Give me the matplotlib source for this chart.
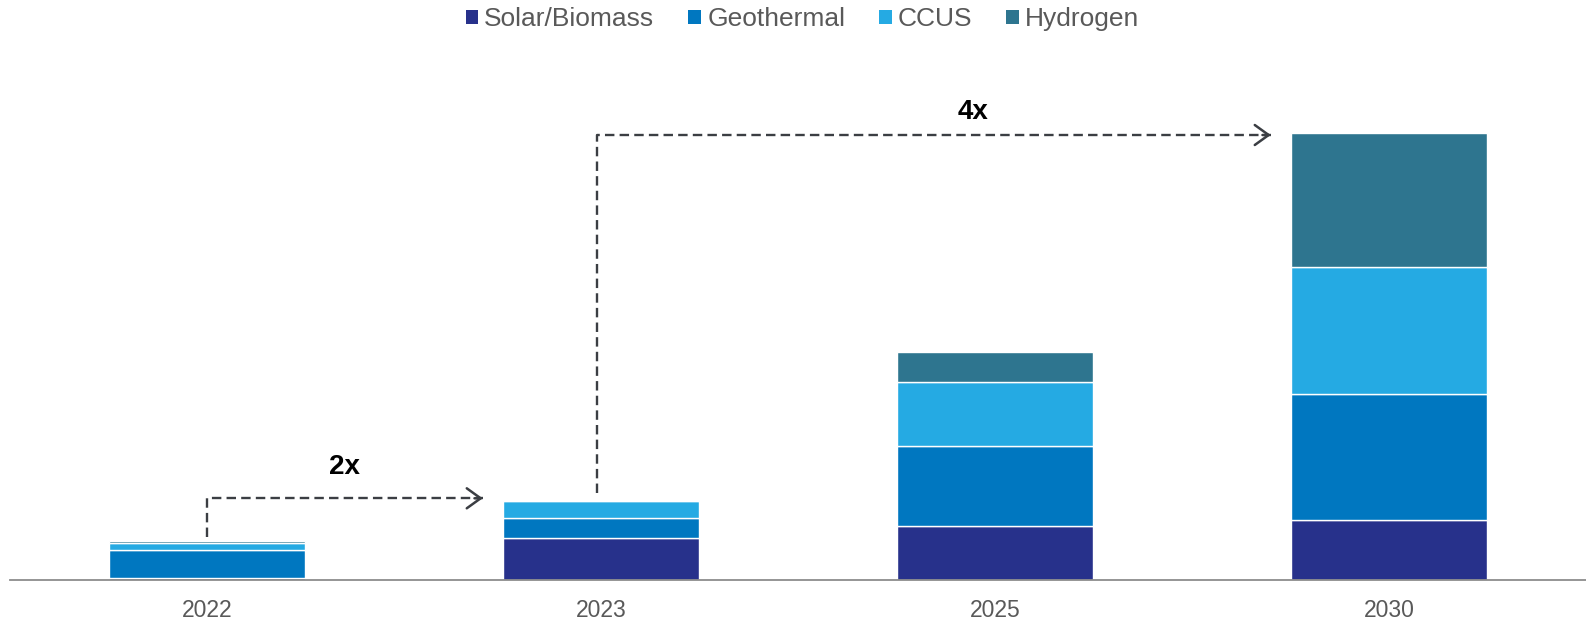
import matplotlib
matplotlib.use("Agg")
import matplotlib.pyplot as plt
from matplotlib.patches import Patch
import numpy as np

plt.rcParams['font.family'] = ['Liberation Sans', 'DejaVu Sans']

years = ["2022", "2023", "2025", "2030"]
series_names = ["Solar/Biomass", "Geothermal", "CCUS", "Hydrogen"]
solar = [2.5, 42.3, 54.0, 60.0]
geothermal = [28.0, 20.0, 80.3, 126.0]
ccus = [6.3, 16.7, 63.4, 127.0]
hydrogen = [2.5, 0.0, 30.0, 134.3]
colors = ["#27318B", "#0077C0", "#25AAE3", "#2E758F"]

growth_labels = ["2x", "4x"]

fig = plt.figure(figsize=(15.86, 6.21), dpi=100)
ax = fig.add_axes([10 / 1586, 41 / 621, 1576 / 1586, 520 / 621])

x = np.arange(len(years))
bottom = np.zeros(len(years))
for vals, col in zip([solar, geothermal, ccus, hydrogen], colors):
    ax.bar(x, vals, width=0.497, bottom=bottom, color=col,
           edgecolor="white", linewidth=1.0)
    bottom += np.array(vals)

ax.set_xlim(-0.5, 3.5)
ax.set_ylim(0, 520)
ax.set_xticks(x)
ax.set_xticklabels(years, fontsize=16.5, color="#595959")
ax.tick_params(axis="x", length=0, pad=13.5)
ax.set_yticks([])
for s in ["top", "left", "right"]:
    ax.spines[s].set_visible(False)
ax.spines["bottom"].set_color("#8c8c8c")
ax.spines["bottom"].set_linewidth(1.3)

arrow_col = "#3b3e43"

def growth_arrow(x0, y0, y1, x1, label, lx, ly):
    ax.plot([x0, x0, x1], [y0, y1, y1], color=arrow_col, lw=1.7,
            dashes=(4, 2.2), solid_capstyle="butt", zorder=5)
    ax.annotate("", xy=(x1, y1), xytext=(-6, 0), textcoords="offset points",
                arrowprops=dict(arrowstyle="->,head_length=0.5,head_width=0.36",
                                mutation_scale=20, color=arrow_col, lw=1.8,
                                shrinkA=0, shrinkB=0), zorder=6)
    ax.text(lx, ly, label, ha="center", va="center", fontsize=20,
            fontweight="bold", color="black")

growth_arrow(0.0, 43.3, 81.7, 0.70, growth_labels[0], 0.35, 113.3)
growth_arrow(0.99, 87.4, 445.0, 2.70, growth_labels[1], 1.944, 468.3)

handles = [Patch(facecolor=c, edgecolor="none") for c in colors]
leg = fig.legend(handles, series_names, loc="center",
                 bbox_to_anchor=(0.5 + 9.5 / 1586, 1 - 19 / 621),
                 ncol=4, frameon=False, fontsize=19, handlelength=0.48, handleheight=0.45,
                 handletextpad=0.23, columnspacing=1.29, labelcolor="#595959",
                 borderpad=0, borderaxespad=0)

fig.savefig("out.png", dpi=100)
